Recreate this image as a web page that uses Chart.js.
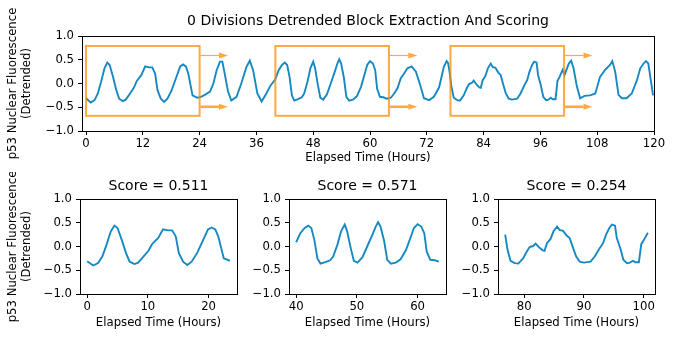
<!DOCTYPE html>
<html>
<head>
<meta charset="utf-8">
<script src="https://cdn.jsdelivr.net/npm/chart.js@4"></script>
<style>
  html, body { margin: 0; padding: 0; background: #fff; }
  #wrap { position: relative; width: 681px; height: 337px; overflow: hidden; }
  canvas { position: absolute; }
</style>
</head>
<body>
<div id="wrap">
  <canvas id="topChart" width="681" height="172" style="left:0;top:0"></canvas>
  <canvas id="block1" width="245" height="165" style="left:0;top:172px"></canvas>
  <canvas id="block2" width="215" height="165" style="left:240px;top:172px"></canvas>
  <canvas id="block3" width="226" height="165" style="left:455px;top:172px"></canvas>
</div>
<script>
// detrended p53 trace in pieces (hours, value)
const block1Time = [0, 1.0, 1.8, 2.5, 3.2, 3.9, 4.5, 5.0, 5.7, 6.4, 7.0, 7.8, 8.4, 9.3, 10.1, 10.7, 11.7, 12.5, 13.3, 14.0, 14.6, 15.1, 15.8, 16.5, 17.2, 18.1, 19.0, 19.9, 20.5, 21.1, 21.6, 22.5, 23.5];
const block1Vals = [-0.31, -0.40, -0.35, -0.21, 0.04, 0.32, 0.44, 0.39, 0.14, -0.14, -0.32, -0.37, -0.34, -0.21, -0.09, 0.05, 0.18, 0.36, 0.34, 0.34, 0.21, -0.14, -0.32, -0.39, -0.32, -0.14, 0.11, 0.36, 0.40, 0.36, 0.21, -0.25, -0.30];

const gap1Time = [24.3, 25.1, 26.2, 26.9, 27.6, 28.3, 28.8, 29.3, 30.0, 30.7, 31.8, 32.8, 33.9, 34.6, 35.3, 36.2, 37.1, 38.1, 39.0];
const gap1Vals = [-0.28, -0.24, -0.17, 0.0, 0.28, 0.46, 0.46, 0.21, -0.17, -0.36, -0.28, 0.0, 0.35, 0.48, 0.28, -0.21, -0.38, -0.21, -0.04];

const block2Time = [40.0, 40.7, 41.4, 42.0, 42.5, 43.0, 43.5, 44.0, 44.8, 45.6, 46.1, 46.8, 47.4, 48.0, 48.4, 49.0, 49.5, 50.1, 50.9, 51.7, 52.6, 53.1, 53.5, 53.9, 54.5, 55.0, 55.6, 56.4, 57.2, 58.1, 58.9, 59.4, 60.0, 60.6, 61.1, 61.5, 62.1, 62.8, 63.5];
const block2Vals = [0.09, 0.28, 0.39, 0.44, 0.39, 0.14, -0.25, -0.36, -0.33, -0.29, -0.21, 0.04, 0.32, 0.46, 0.32, -0.04, -0.30, -0.34, -0.23, 0.0, 0.26, 0.42, 0.51, 0.42, 0.11, -0.28, -0.36, -0.34, -0.27, -0.07, 0.21, 0.39, 0.47, 0.42, 0.28, -0.11, -0.28, -0.29, -0.32];

const gap2Time = [64.4, 65.1, 65.8, 66.5, 67.2, 67.9, 68.8, 69.7, 70.6, 71.4, 72.5, 73.5, 74.6, 75.6, 76.2, 76.5];
const gap2Vals = [-0.30, -0.21, -0.10, 0.11, 0.21, 0.32, 0.36, 0.25, -0.03, -0.31, -0.35, -0.28, -0.08, 0.35, 0.47, 0.43];

const block3Time = [76.8, 77.2, 77.7, 78.4, 79.0, 79.8, 80.4, 80.9, 81.5, 81.9, 82.5, 83.1, 83.4, 83.8, 84.4, 84.9, 85.5, 85.9, 86.5, 87.1, 87.6, 88.2, 88.7, 89.3, 90.0, 91.1, 91.8, 92.6, 93.2, 93.7, 94.3, 94.7, 95.2, 95.5, 96.1, 96.6, 97.2, 97.7, 98.2, 98.6, 99.2, 99.6, 100.1, 100.7];
const block3Vals = [0.25, -0.07, -0.30, -0.35, -0.36, -0.25, -0.11, -0.01, 0.01, 0.06, -0.02, -0.08, -0.09, 0.07, 0.16, 0.32, 0.42, 0.35, 0.33, 0.23, 0.18, -0.04, -0.21, -0.32, -0.34, -0.32, -0.21, -0.04, 0.07, 0.25, 0.40, 0.46, 0.44, 0.18, -0.04, -0.28, -0.35, -0.34, -0.30, -0.33, -0.33, 0.05, 0.15, 0.29];

const gap3Time = [101.1, 102.0, 102.5, 103.0, 103.7, 104.4, 105.3, 106.5, 107.6, 108.6, 109.7, 110.7, 111.2, 111.8, 112.5, 113.2, 114.2, 115.3, 116.4, 117.1, 117.8, 118.3, 118.8, 119.8];
const gap3Vals = [0.18, 0.42, 0.48, 0.32, -0.06, -0.31, -0.26, -0.25, -0.21, 0.14, 0.29, 0.39, 0.47, 0.25, -0.24, -0.31, -0.31, -0.21, 0.07, 0.32, 0.42, 0.47, 0.42, -0.25];

// extracted blocks and their scores
const blockStarts = [0, 40, 77];
const blockHours = 24;
const blockScores = ['0.511', '0.571', '0.254'];
const boxLow = -0.68, boxHigh = 0.79;
const arrowLevels = [0.59, -0.49];
const arrowHours = 6;

// tick labels
const topTicks = [0, 12, 24, 36, 48, 60, 72, 84, 96, 108, 120];
const block1Ticks = [0, 10, 20];
const block2Ticks = [40, 50, 60];
const block3Ticks = [80, 90, 100];
const yTicks = [-1, -0.5, 0, 0.5, 1];

const FONT = 'DejaVu Sans';
const tickFont = { family: FONT, size: 11.7 };
const lineColor = '#1689c2';
const boxColor = 'rgba(255,140,0,0.75)';

function pts(t, v) {
  return t.map((x, i) => ({ x: x, y: v[i] }));
}

const frame = {
  id: 'frame',
  afterDraw(chart) {
    const { ctx, chartArea: a } = chart;
    ctx.save();
    ctx.strokeStyle = '#000';
    ctx.lineWidth = 1;
    ctx.strokeRect(Math.round(a.left) + 0.5, Math.round(a.top) + 0.5,
      Math.round(a.right - a.left), Math.round(a.bottom - a.top));
    ctx.restore();
  }
};

const blockBoxes = {
  id: 'blockBoxes',
  afterDatasetsDraw(chart) {
    const { ctx, scales: { x, y } } = chart;
    ctx.save();
    ctx.strokeStyle = boxColor;
    ctx.fillStyle = boxColor;
    blockStarts.forEach(t0 => {
      const x0 = x.getPixelForValue(t0);
      const x1 = x.getPixelForValue(t0 + blockHours);
      const yTop = y.getPixelForValue(boxHigh);
      const yBot = y.getPixelForValue(boxLow);
      ctx.lineWidth = 2;
      ctx.strokeRect(x0, yTop, x1 - x0, yBot - yTop);
      arrowLevels.forEach((lv, i) => {
        const ya = y.getPixelForValue(lv);
        const tip = x.getPixelForValue(t0 + blockHours + arrowHours);
        const headLen = 9, headHalf = 3;
        ctx.lineWidth = i === 0 ? 1.2 : 2.6;
        ctx.beginPath();
        ctx.moveTo(x1 + 1, ya);
        ctx.lineTo(tip - headLen, ya);
        ctx.stroke();
        ctx.beginPath();
        ctx.moveTo(tip, ya);
        ctx.lineTo(tip - headLen, ya - headHalf);
        ctx.lineTo(tip - headLen, ya + headHalf);
        ctx.closePath();
        ctx.fill();
      });
    });
    ctx.restore();
  }
};

function xScale(min, max, ticks, h) {
  return {
    type: 'linear', min: min, max: max,
    afterBuildTicks: s => { s.ticks = ticks.map(v => ({ value: v })); },
    afterFit: s => { s.height = h; },
    grid: { drawOnChartArea: false, drawTicks: true, tickLength: 4, color: '#000', lineWidth: 1 },
    border: { display: false },
    ticks: { font: tickFont, color: '#000', padding: 2, maxRotation: 0, autoSkip: false, callback: v => String(v) },
    title: { display: true, text: 'Elapsed Time (Hours)', font: tickFont, color: '#000', padding: { top: 0, bottom: 7 } }
  };
}

function yScale(w, showTitle) {
  return {
    type: 'linear', min: -1, max: 1,
    afterBuildTicks: s => { s.ticks = yTicks.map(v => ({ value: v })); },
    afterFit: s => { s.width = w; },
    grid: { drawOnChartArea: false, drawTicks: true, tickLength: 4, color: '#000', lineWidth: 1 },
    border: { display: false },
    ticks: { font: tickFont, color: '#000', padding: 4, callback: v => v.toFixed(1).replace('-', '\u2212') },
    title: { display: showTitle, text: ['p53 Nuclear Fluorescence', '(Detrended)'], font: tickFont, color: '#000', padding: { top: 6 } }
  };
}

function makeChart(id, data, xs, ys, title, titlePad, padRight, extra) {
  return new Chart(document.getElementById(id).getContext('2d'), {
    type: 'line',
    data: {
      datasets: [{
        data: data,
        borderColor: lineColor,
        borderWidth: 1.9,
        pointRadius: 0,
        tension: 0,
        fill: false
      }]
    },
    options: {
      responsive: false,
      animation: false,
      devicePixelRatio: 1,
      layout: { padding: { left: 0, right: padRight, top: 0, bottom: 0 } },
      scales: { x: xs, y: ys },
      plugins: {
        legend: { display: false },
        tooltip: { enabled: false },
        title: {
          display: true, text: title, fullSize: false,
          font: { family: FONT, size: 14, weight: 'normal' }, color: '#000',
          padding: titlePad
        }
      }
    },
    plugins: [frame].concat(extra || [])
  });
}

const fullTrace = pts(
  block1Time.concat(gap1Time, block2Time, gap2Time, block3Time, gap3Time),
  block1Vals.concat(gap1Vals, block2Vals, gap2Vals, block3Vals, gap3Vals)
);

makeChart('topChart', fullTrace,
  xScale(-0.85, 120, topTicks, 41), yScale(82, true),
  '0 Divisions Detrended Block Extraction And Scoring', { top: 12.6, bottom: 6.6 }, 27, [blockBoxes]);

const bottomPad = { top: 5.6, bottom: 4.6 };
makeChart('block1', pts(block1Time, block1Vals),
  xScale(-1.175, 24.675, block1Ticks, 43), yScale(80, true),
  'Score = ' + blockScores[0], bottomPad, 8);
makeChart('block2', pts(block2Time, block2Vals),
  xScale(38.825, 64.675, block2Ticks, 43), yScale(49, false),
  'Score = ' + blockScores[1], bottomPad, 9);
makeChart('block3', pts(block3Time, block3Vals),
  xScale(75.6, 101.9, block3Ticks, 43), yScale(43, false),
  'Score = ' + blockScores[2], bottomPad, 26);
</script>
</body>
</html>
